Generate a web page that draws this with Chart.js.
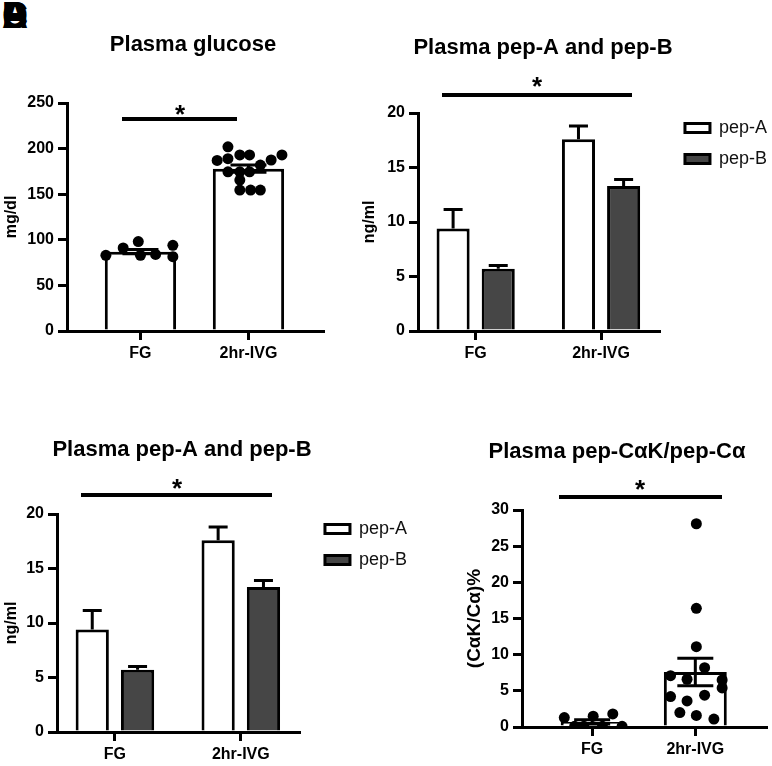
<!DOCTYPE html>
<html>
<head>
<meta charset="utf-8">
<title>Plasma glucose and peptides</title>
<script src="https://cdn.jsdelivr.net/npm/chart.js@4.4.1/dist/chart.umd.min.js"></script>
<style>
  html, body { margin: 0; padding: 0; background: #fff; }
  body { width: 772px; height: 766px; position: relative; overflow: hidden; }
  canvas { position: absolute; }
  #c1 { left: 0; top: 0; }
  #c2 { left: 350px; top: 0; }
  #c3 { left: 0; top: 430px; }
  #c4 { left: 462px; top: 430px; }
  .tag { position: absolute; left: 2px; top: -2px; font: bold 36px/36px "Liberation Sans", Arial, sans-serif; color: #000; }
</style>
</head>
<body>
<span class="tag">A</span><span class="tag">B</span><span class="tag">C</span><span class="tag">D</span>
<canvas id="c1" width="345" height="375"></canvas>
<canvas id="c2" width="428" height="375"></canvas>
<canvas id="c3" width="418" height="336"></canvas>
<canvas id="c4" width="310" height="336"></canvas>
<script>
Chart.defaults.font.family = "'Liberation Sans', Arial, sans-serif";
Chart.defaults.color = "#000";
Chart.defaults.animation = false;

// Data
const groups = ["FG", "2hr-IVG"];

// Plasma glucose (mg/dl)
const glucoseTicks = [0, 50, 100, 150, 200, 250];
const glucoseMean = [87, 178];
const glucoseSem = [2.4, 3.9];
const glucoseFG = [83, 91, 98, 83, 84, 94, 81.5];
const glucoseFGJitter = [-0.32, -0.16, -0.02, 0, 0.14, 0.3, 0.3];
const glucoseIVG = [202, 187, 189, 193, 193, 187.5, 193, 174.5, 174.5, 174.5, 182, 165.5, 154.5, 154.5, 154.5];
const glucoseIVGJitter = [-0.19, -0.29, -0.19, -0.08, 0.01, 0.21, 0.31, -0.19, -0.08, 0.01, 0.11, -0.08, -0.08, 0.02, 0.11];

// Plasma pep-A and pep-B (ng/ml)
const pepTicks = [0, 5, 10, 15, 20];
const pepAMean = [9.4, 17.6];
const pepASem = [1.75, 1.2];
const pepBMean = [5.7, 13.3];
const pepBSem = [0.32, 0.6];

// Plasma pep-CaK/pep-Ca ratio (%)
const ratioTicks = [0, 5, 10, 15, 20, 25, 30];
const ratioMean = [0.7, 7.6];
const ratioSem = [0.3, 1.9];
const ratioFG = [1.3, 0.1, 0.1, 1.5, 0.1, 1.8, 0.1];
const ratioFGJitter = [-0.27, -0.17, -0.08, 0.01, 0.1, 0.2, 0.29];
const ratioIVG = [28.1, 16.4, 11.1, 8.2, 7.1, 6.6, 6.5, 5.4, 4.2, 4.4, 3.6, 2.0, 1.6, 1.1];
const ratioIVGJitter = [0.01, 0.01, 0.01, 0.09, -0.24, -0.08, 0.26, 0.26, -0.24, 0.09, -0.08, -0.15, 0.01, 0.18];

const BLACK = "#000";
const TICK_FONT = { size: 16, weight: "bold" };

// helpers to turn the arrays into chart data
const barPoints = means => means.map((v, i) => ({ x: i, y: v }));
const dotPoints = (groupIndex, values, jitter) => values.map((v, i) => ({ x: groupIndex + jitter[i], y: v }));

// Error bars (SEM) drawn right after their bar dataset
const errorBars = {
  id: "errorBars",
  afterDatasetDraw(chart, args) {
    const ds = chart.data.datasets[args.index];
    if (!ds.sem) return;
    const yScale = chart.scales.y;
    const ctx = chart.ctx;
    ctx.save();
    ctx.strokeStyle = BLACK;
    ctx.lineWidth = 3;
    args.meta.data.forEach((bar, i) => {
      const mean = ds.data[i].y;
      const top = yScale.getPixelForValue(mean + ds.sem[i]);
      const bottom = ds.twoSided ? yScale.getPixelForValue(mean - ds.sem[i]) : bar.y;
      const half = ds.capWidth / 2;
      ctx.beginPath();
      ctx.moveTo(bar.x, bottom);
      ctx.lineTo(bar.x, top);
      ctx.moveTo(bar.x - half, top);
      ctx.lineTo(bar.x + half, top);
      if (ds.twoSided) {
        ctx.moveTo(bar.x - half, bottom);
        ctx.lineTo(bar.x + half, bottom);
      }
      ctx.stroke();
    });
    ctx.restore();
  }
};

// Panel title plus the significance bar and asterisk
const decor = {
  id: "decor",
  afterDraw(chart, args, o) {
    const ctx = chart.ctx;
    ctx.save();
    ctx.fillStyle = BLACK;
    ctx.textAlign = "center";
    ctx.textBaseline = "alphabetic";
    ctx.font = "bold 22px 'Liberation Sans', Arial, sans-serif";
    ctx.fillText(o.title, o.titleX, o.titleY + 8);
    ctx.fillRect(o.sigX1, o.sigY - 2, o.sigX2 - o.sigX1, 4);
    ctx.font = "bold 26px 'Liberation Sans', Arial, sans-serif";
    ctx.fillText("*", o.starX, o.starY + 15);
    ctx.restore();
  }
};

function axisX(range, height) {
  return {
    type: "linear",
    position: "bottom",
    min: range[0],
    max: range[1],
    offset: false,
    afterBuildTicks: s => { s.ticks = groups.map((g, i) => ({ value: i })); },
    afterFit: s => { s.height = height; },
    border: { color: BLACK, width: 3 },
    grid: { offset: false, drawOnChartArea: false, color: BLACK, lineWidth: 3, tickLength: 9 },
    ticks: { font: TICK_FONT, color: BLACK, padding: 4, maxRotation: 0, autoSkip: false, callback: v => groups[v] }
  };
}

function axisY(ticks, title, titleSize, titlePad, width) {
  return {
    type: "linear",
    position: "left",
    min: ticks[0],
    max: ticks[ticks.length - 1],
    afterBuildTicks: s => { s.ticks = ticks.map(v => ({ value: v })); },
    afterFit: s => { s.width = width; },
    border: { color: BLACK, width: 3 },
    grid: { drawOnChartArea: false, color: BLACK, lineWidth: 3, tickLength: 9 },
    ticks: { font: TICK_FONT, color: BLACK, padding: 4 },
    title: { display: true, text: title, color: BLACK, font: { size: titleSize, weight: "bold" }, padding: { top: titlePad, bottom: 0 } }
  };
}

// invisible boxes used only to keep space free
function spacer(axis, position, size) {
  return {
    type: "linear", axis, position, min: 0, max: 1,
    grid: { display: false }, border: { display: false }, ticks: { display: false },
    afterFit: s => { if (axis === "x") s.height = size; else s.width = size; }
  };
}

function dotChart(id, o) {
  new Chart(document.getElementById(id), {
    type: "bar",
    data: {
      datasets: [
        {
          type: "scatter",
          order: 0,
          data: dotPoints(0, o.fg, o.fgJitter).concat(dotPoints(1, o.ivg, o.ivgJitter)),
          pointRadius: 5.5,
          pointBackgroundColor: BLACK,
          pointBorderWidth: 0,
          xAxisID: "x",
          yAxisID: "y"
        },
        {
          order: 1,
          data: barPoints(o.mean),
          sem: o.sem,
          twoSided: true,
          capWidth: 36,
          backgroundColor: "#fff",
          borderColor: BLACK,
          borderWidth: 3,
          categoryPercentage: 1,
          barPercentage: o.barPct,
          xAxisID: "x",
          yAxisID: "y"
        }
      ]
    },
    options: {
      responsive: false,
      events: [],
      layout: { padding: o.padding },
      scales: {
        x: axisX(o.xRange, 30),
        y: axisY(o.ticks, o.yTitle, o.yTitleSize, o.yTitlePad, o.yWidth)
      },
      plugins: { legend: { display: false }, tooltip: { enabled: false }, decor: o.decor }
    },
    plugins: [errorBars, decor]
  });
}

function pepChart(id, o) {
  new Chart(document.getElementById(id), {
    type: "bar",
    data: {
      datasets: [
        {
          label: "pep-A",
          data: barPoints(pepAMean),
          sem: pepASem,
          capWidth: 19,
          backgroundColor: "#fff",
          borderColor: BLACK,
          borderWidth: 3,
          categoryPercentage: 0.72,
          barPercentage: 0.733,
          xAxisID: "x",
          yAxisID: "y"
        },
        {
          label: "pep-B",
          data: barPoints(pepBMean),
          sem: pepBSem,
          capWidth: 19,
          backgroundColor: "#464646",
          borderColor: BLACK,
          borderWidth: 3,
          categoryPercentage: 0.72,
          barPercentage: 0.733,
          xAxisID: "x",
          yAxisID: "y"
        }
      ]
    },
    options: {
      responsive: false,
      events: [],
      layout: { padding: o.padding },
      scales: {
        x: axisX([-0.46, 1.47], 30),
        y: axisY(pepTicks, "ng/ml", 16, 2, o.yWidth),
        topGap: spacer("x", "top", 7),
        rightGap: spacer("y", "right", 12)
      },
      plugins: {
        tooltip: { enabled: false },
        legend: {
          display: true,
          position: "right",
          align: "start",
          maxWidth: 200,
          labels: { boxWidth: 25, boxHeight: 9, padding: 13, color: "#111", font: { size: 18 } }
        },
        decor: o.decor
      }
    },
    plugins: [errorBars, decor]
  });
}

dotChart("c1", {
  mean: glucoseMean, sem: glucoseSem,
  fg: glucoseFG, fgJitter: glucoseFGJitter, ivg: glucoseIVG, ivgJitter: glucoseIVGJitter,
  ticks: glucoseTicks, yTitle: "mg/dl", yTitleSize: 16, yTitlePad: 2, yWidth: 67,
  xRange: [-0.68, 1.69], barPct: 0.66,
  padding: { top: 103, left: 0, right: 22, bottom: 14 },
  decor: { title: "Plasma glucose", titleX: 193, titleY: 43, sigX1: 122, sigX2: 237, sigY: 119, starX: 180, starY: 108 }
});

pepChart("c2", {
  yWidth: 60,
  padding: { top: 106, left: 8, right: 1, bottom: 14 },
  decor: { title: "Plasma pep-A and pep-B", titleX: 193, titleY: 46, sigX1: 92, sigX2: 282, sigY: 95, starX: 187, starY: 80 }
});

pepChart("c3", {
  yWidth: 57,
  padding: { top: 77, left: 0, right: 1, bottom: 4 },
  decor: { title: "Plasma pep-A and pep-B", titleX: 182, titleY: 18, sigX1: 81, sigX2: 272, sigY: 65, starX: 177, starY: 52 }
});

dotChart("c4", {
  mean: ratioMean, sem: ratioSem,
  fg: ratioFG, fgJitter: ratioFGJitter, ivg: ratioIVG, ivgJitter: ratioIVGJitter,
  ticks: ratioTicks, yTitle: "(CαK/Cα)%", yTitleSize: 19, yTitlePad: 1.5, yWidth: 60,
  xRange: [-0.68, 1.69], barPct: 0.61,
  padding: { top: 80, left: 0, right: 2, bottom: 9 },
  decor: { title: "Plasma pep-CαK/pep-Cα", titleX: 155, titleY: 20, sigX1: 97, sigX2: 260, sigY: 67, starX: 178, starY: 53 }
});
</script>
</body>
</html>
